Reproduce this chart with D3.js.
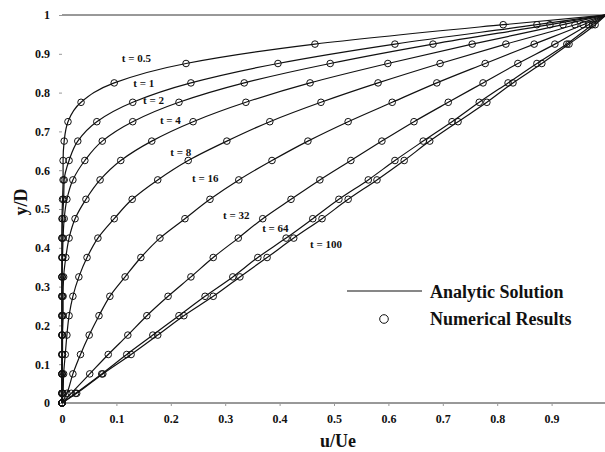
<!DOCTYPE html>
<html>
<head>
<meta charset="utf-8">
<script src="https://cdn.jsdelivr.net/npm/d3@7"></script>
<style>
  body { margin: 0; background: #fff; }
  text { font-family: "Liberation Serif", "Times New Roman", serif; font-weight: bold; fill: #111; }
</style>
</head>
<body>
<div id="the_chart"></div>
<script>
// y/D levels where the numerical results are given
var levels = [0, 0.025, 0.075, 0.125, 0.175, 0.225, 0.275, 0.325, 0.375, 0.425, 0.475,
    0.525, 0.575, 0.625, 0.675, 0.725, 0.775, 0.825, 0.875, 0.925, 0.975, 1];

// u/Ue, one array per time
var u05  = [0, 0, 0, 0, 0, 0, 0, 0, 0, 0, 0, 0.001, 0.002, 0.002, 0.004, 0.011, 0.035, 0.096, 0.228, 0.465, 0.811, 1];
var u1   = [0, 0, 0, 0, 0, 0, 0, 0, 0, 0, 0.001, 0.003, 0.004, 0.013, 0.029, 0.064, 0.130, 0.237, 0.397, 0.612, 0.873, 1];
var u2   = [0, 0, 0, 0, 0, 0, 0, 0, 0.001, 0.002, 0.004, 0.009, 0.020, 0.042, 0.074, 0.130, 0.215, 0.335, 0.493, 0.682, 0.897, 1];
var u4   = [0, 0, 0, 0.001, 0.001, 0.002, 0.002, 0.003, 0.007, 0.013, 0.024, 0.044, 0.070, 0.108, 0.165, 0.241, 0.338, 0.456, 0.599, 0.754, 0.921, 1];
var u8   = [0, 0.002, 0.003, 0.006, 0.009, 0.013, 0.020, 0.031, 0.046, 0.066, 0.096, 0.129, 0.176, 0.232, 0.303, 0.382, 0.476, 0.581, 0.695, 0.816, 0.943, 1];
var u16  = [0, 0.009, 0.020, 0.034, 0.050, 0.068, 0.088, 0.116, 0.145, 0.180, 0.226, 0.272, 0.325, 0.386, 0.452, 0.526, 0.607, 0.689, 0.778, 0.868, 0.958, 1];
var u32  = [0, 0.017, 0.051, 0.085, 0.121, 0.156, 0.195, 0.237, 0.278, 0.324, 0.369, 0.421, 0.474, 0.531, 0.588, 0.647, 0.710, 0.774, 0.838, 0.906, 0.968, 1];
var u64  = [0, 0.025, 0.073, 0.119, 0.167, 0.215, 0.263, 0.314, 0.360, 0.412, 0.461, 0.509, 0.563, 0.612, 0.664, 0.717, 0.767, 0.820, 0.873, 0.928, 0.975, 1];
var u100 = [0, 0.027, 0.075, 0.127, 0.176, 0.224, 0.278, 0.327, 0.377, 0.426, 0.478, 0.526, 0.579, 0.629, 0.676, 0.728, 0.781, 0.829, 0.882, 0.932, 0.980, 1];

var times = ["0.5", "1", "2", "4", "8", "16", "32", "64", "100"];
var series = [u05, u1, u2, u4, u8, u16, u32, u64, u100];

// where each "t = ..." label sits, in (u/Ue, y/D)
var labelU = [0.110, 0.131, 0.149, 0.180, 0.199, 0.239, 0.296, 0.368, 0.456];
var labelY = [0.889, 0.825, 0.781, 0.729, 0.647, 0.580, 0.485, 0.451, 0.410];

var xTicks = [0, 0.1, 0.2, 0.3, 0.4, 0.5, 0.6, 0.7, 0.8, 0.9];
var yTicks = [0, 0.1, 0.2, 0.3, 0.4, 0.5, 0.6, 0.7, 0.8, 0.9, 1];

gen_vis();

function gen_vis() {
    var w = 605;
    var h = 452;

    var svg = d3.select("#the_chart")
        .append("svg")
        .attr("width", w)
        .attr("height", h);

    var x = d3.scaleLinear().domain([0, 1]).range([62, 606]);
    var y = d3.scaleLinear().domain([0, 1]).range([403, 15]);

    // frame: top and bottom lines only
    svg.append("line")
        .attr("x1", x(0)).attr("x2", x(1))
        .attr("y1", y(1)).attr("y2", y(1))
        .attr("stroke", "#333").attr("stroke-width", 1);

    var xAxis = svg.append("g")
        .attr("transform", "translate(0," + y(0) + ")")
        .call(d3.axisBottom(x).tickValues(xTicks).tickSize(3).tickPadding(8)
            .tickFormat(function (d) { return d === 0 ? "0" : d3.format(".1f")(d); }));
    xAxis.select(".domain").attr("stroke", "#333").attr("d", "M" + x(0) + ",0H" + x(1));
    xAxis.selectAll(".tick line").attr("stroke", "#999");
    xAxis.selectAll("text").style("font-size", "12px").attr("fill", "#111");

    var yAxis = svg.append("g")
        .attr("transform", "translate(" + x(0) + ",0)")
        .call(d3.axisLeft(y).tickValues(yTicks).tickSize(3).tickPadding(9)
            .tickFormat(function (d) { return (d === 0 || d === 1) ? String(d) : d3.format(".1f")(d); }));
    yAxis.select(".domain").remove();
    yAxis.selectAll(".tick line").attr("stroke", "#999");
    yAxis.selectAll("text").style("font-size", "12px").attr("fill", "#111");

    // axis titles
    svg.append("text")
        .attr("x", 338).attr("y", 447)
        .attr("text-anchor", "middle")
        .style("font-size", "18px")
        .text("u/Ue");

    svg.append("text")
        .attr("transform", "translate(27,202) rotate(-90)")
        .attr("text-anchor", "middle")
        .style("font-size", "18px")
        .text("y/D");

    var line = d3.line()
        .x(function (d) { return x(d[0]); })
        .y(function (d) { return y(d[1]); })
        .curve(d3.curveMonotoneY);

    var pts = series.map(function (s) {
        return s.map(function (u, i) { return [u, levels[i]]; });
    });

    svg.selectAll(".curve")
        .data(pts)
        .enter()
        .append("path")
        .attr("class", "curve")
        .attr("d", line)
        .attr("fill", "none")
        .attr("stroke", "#111")
        .attr("stroke-width", 1.2);

    // numerical results as open circles
    pts.forEach(function (p) {
        svg.selectAll(null)
            .data(p.slice(0, p.length - 1))
            .enter()
            .append("circle")
            .attr("cx", function (d) { return x(d[0]); })
            .attr("cy", function (d) { return y(d[1]); })
            .attr("r", 3.3)
            .attr("fill", "none")
            .attr("stroke", "#111")
            .attr("stroke-width", 1);
    });

    svg.selectAll(".tlabel")
        .data(times)
        .enter()
        .append("text")
        .attr("class", "tlabel")
        .attr("x", function (d, i) { return x(labelU[i]); })
        .attr("y", function (d, i) { return y(labelY[i]); })
        .attr("dy", "0.35em")
        .style("font-size", "11px")
        .text(function (d) { return "t = " + d; });

    // legend
    svg.append("line")
        .attr("x1", 347).attr("x2", 422)
        .attr("y1", 291).attr("y2", 291)
        .attr("stroke", "#111").attr("stroke-width", 1.2);
    svg.append("circle")
        .attr("cx", 384).attr("cy", 319).attr("r", 4.3)
        .attr("fill", "none").attr("stroke", "#111").attr("stroke-width", 1);
    svg.append("text")
        .attr("x", 430).attr("y", 298)
        .style("font-size", "18px")
        .text("Analytic Solution");
    svg.append("text")
        .attr("x", 430).attr("y", 325)
        .style("font-size", "18px")
        .text("Numerical Results");
}
</script>
</body>
</html>
